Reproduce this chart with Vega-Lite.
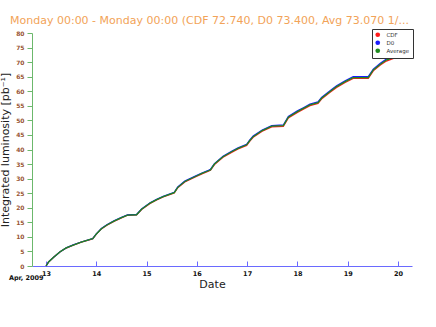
{
  "$schema": "https://vega.github.io/schema/vega-lite/v6.json",
  "autosize": "none",
  "width": 380,
  "height": 233,
  "padding": {"left": 32, "top": 33, "right": 24, "bottom": 61},
  "background": "white",
  "config": {
    "view": {"stroke": null},
    "font": "DejaVu Sans"
  },
  "title": {
    "text": "Monday 00:00 - Monday 00:00 (CDF 72.740, D0 73.400, Avg 73.070 1/...",
    "anchor": "start",
    "frame": "group",
    "dx": -22,
    "offset": 3,
    "font": "DejaVu Sans",
    "fontSize": 11,
    "fontWeight": "normal",
    "color": "#f2a358"
  },
  "data": {
    "values": [
      {"day": 13.0, "CDF": 0, "D0": 0, "Average": 0},
      {"day": 13.05, "CDF": 1.39, "D0": 1.41, "Average": 1.4},
      {"day": 13.15, "CDF": 2.99, "D0": 3.01, "Average": 3.0},
      {"day": 13.28, "CDF": 4.88, "D0": 4.92, "Average": 4.9},
      {"day": 13.40, "CDF": 6.17, "D0": 6.23, "Average": 6.2},
      {"day": 13.54, "CDF": 7.17, "D0": 7.23, "Average": 7.2},
      {"day": 13.70, "CDF": 8.16, "D0": 8.24, "Average": 8.2},
      {"day": 13.91, "CDF": 9.26, "D0": 9.34, "Average": 9.3},
      {"day": 13.93, "CDF": 9.36, "D0": 9.44, "Average": 9.4},
      {"day": 14.00, "CDF": 10.95, "D0": 11.05, "Average": 11.0},
      {"day": 14.10, "CDF": 12.74, "D0": 12.86, "Average": 12.8},
      {"day": 14.21, "CDF": 14.04, "D0": 14.16, "Average": 14.1},
      {"day": 14.35, "CDF": 15.33, "D0": 15.47, "Average": 15.4},
      {"day": 14.50, "CDF": 16.53, "D0": 16.67, "Average": 16.6},
      {"day": 14.62, "CDF": 17.42, "D0": 17.58, "Average": 17.5},
      {"day": 14.80, "CDF": 17.52, "D0": 17.68, "Average": 17.6},
      {"day": 14.90, "CDF": 19.41, "D0": 19.59, "Average": 19.5},
      {"day": 15.07, "CDF": 21.5, "D0": 21.7, "Average": 21.6},
      {"day": 15.20, "CDF": 22.7, "D0": 22.9, "Average": 22.8},
      {"day": 15.33, "CDF": 23.69, "D0": 23.91, "Average": 23.8},
      {"day": 15.55, "CDF": 25.09, "D0": 25.31, "Average": 25.2},
      {"day": 15.62, "CDF": 26.88, "D0": 27.12, "Average": 27.0},
      {"day": 15.76, "CDF": 28.87, "D0": 29.13, "Average": 29.0},
      {"day": 15.99, "CDF": 30.76, "D0": 31.04, "Average": 30.9},
      {"day": 16.10, "CDF": 31.66, "D0": 31.94, "Average": 31.8},
      {"day": 16.23, "CDF": 32.55, "D0": 32.85, "Average": 32.7},
      {"day": 16.27, "CDF": 32.85, "D0": 33.15, "Average": 33.0},
      {"day": 16.35, "CDF": 34.84, "D0": 35.16, "Average": 35.0},
      {"day": 16.52, "CDF": 37.33, "D0": 37.67, "Average": 37.5},
      {"day": 16.70, "CDF": 39.12, "D0": 39.48, "Average": 39.3},
      {"day": 16.82, "CDF": 40.22, "D0": 40.58, "Average": 40.4},
      {"day": 16.99, "CDF": 41.41, "D0": 41.79, "Average": 41.6},
      {"day": 17.05, "CDF": 42.81, "D0": 43.19, "Average": 43.0},
      {"day": 17.12, "CDF": 44.2, "D0": 44.6, "Average": 44.4},
      {"day": 17.30, "CDF": 46.29, "D0": 46.71, "Average": 46.5},
      {"day": 17.49, "CDF": 47.78, "D0": 48.22, "Average": 48.0},
      {"day": 17.72, "CDF": 47.98, "D0": 48.42, "Average": 48.2},
      {"day": 17.82, "CDF": 50.87, "D0": 51.33, "Average": 51.1},
      {"day": 18.00, "CDF": 52.76, "D0": 53.24, "Average": 53.0},
      {"day": 18.12, "CDF": 53.86, "D0": 54.34, "Average": 54.1},
      {"day": 18.25, "CDF": 55.05, "D0": 55.55, "Average": 55.3},
      {"day": 18.41, "CDF": 55.85, "D0": 56.35, "Average": 56.1},
      {"day": 18.48, "CDF": 57.34, "D0": 57.86, "Average": 57.6},
      {"day": 18.65, "CDF": 59.63, "D0": 60.17, "Average": 59.9},
      {"day": 18.78, "CDF": 61.32, "D0": 61.88, "Average": 61.6},
      {"day": 18.95, "CDF": 63.02, "D0": 63.58, "Average": 63.3},
      {"day": 19.11, "CDF": 64.41, "D0": 64.99, "Average": 64.7},
      {"day": 19.41, "CDF": 64.41, "D0": 64.99, "Average": 64.7},
      {"day": 19.51, "CDF": 67.0, "D0": 67.6, "Average": 67.3},
      {"day": 19.65, "CDF": 68.99, "D0": 69.61, "Average": 69.3},
      {"day": 19.77, "CDF": 70.38, "D0": 71.02, "Average": 70.7},
      {"day": 19.91, "CDF": 71.28, "D0": 71.92, "Average": 71.6},
      {"day": 20.0, "CDF": 72.74, "D0": 73.40, "Average": 73.07}
    ]
  },
  "transform": [
    {"fold": ["CDF", "D0", "Average"], "as": ["series", "lumi"]}
  ],
  "encoding": {
    "x": {
      "field": "day",
      "type": "quantitative",
      "scale": {"domain": [12.72, 20.28], "nice": false, "zero": false},
      "axis": {
        "values": [13, 14, 15, 16, 17, 18, 19, 20],
        "format": "d",
        "title": "Date",
        "titleFont": "DejaVu Sans",
        "titleFontSize": 11,
        "titleFontWeight": "normal",
        "titleColor": "#222222",
        "titleX": 180,
        "titlePadding": 2,
        "domainColor": "#6a6aff",
        "domainWidth": 1.2,
        "tickColor": "#6a6aff",
        "tickSize": -5,
        "labelPadding": 9,
        "labelFontSize": 6.5,
        "labelFontWeight": "bold",
        "labelColor": "#111111",
        "grid": false
      }
    },
    "y": {
      "field": "lumi",
      "type": "quantitative",
      "scale": {"domain": [0, 80], "nice": false},
      "axis": {
        "values": [0, 5, 10, 15, 20, 25, 30, 35, 40, 45, 50, 55, 60, 65, 70, 75, 80],
        "title": "Integrated luminosity [pb⁻¹]",
        "titleFont": "DejaVu Sans",
        "titleFontSize": 11,
        "titleFontWeight": "normal",
        "titleColor": "#222222",
        "titlePadding": 5,
        "domainColor": "#6cb86c",
        "tickColor": "#6cb86c",
        "tickSize": 5,
        "labelPadding": 3,
        "labelFontSize": 6,
        "labelFontWeight": "bold",
        "labelColor": "#995533",
        "grid": false
      }
    },
    "color": {
      "field": "series",
      "type": "nominal",
      "scale": {"domain": ["CDF", "D0", "Average"], "range": ["#ff1a1a", "#1a1aff", "#1e8a1e"]},
      "legend": {
        "title": null,
        "orient": "none",
        "legendX": 340,
        "legendY": -4,
        "symbolType": "circle",
        "symbolSize": 22,
        "symbolStrokeWidth": 0,
        "labelFontSize": 5.5,
        "labelColor": "#333333",
        "rowPadding": 1,
        "padding": 3,
        "strokeColor": "#333333",
        "fillColor": "white",
        "labelOffset": 6,
        "labelLimit": 40,
        "encode": {
          "symbols": {"update": {"fill": {"scale": "color", "field": "value"}, "fillOpacity": {"value": 1}}}
        }
      }
    }
  },
  "layer": [
    {"transform": [{"filter": "datum.series == 'CDF'"}], "mark": {"type": "line", "strokeWidth": 1.3}},
    {"transform": [{"filter": "datum.series == 'D0'"}], "mark": {"type": "line", "strokeWidth": 1.3}},
    {"transform": [{"filter": "datum.series == 'Average'"}], "mark": {"type": "line", "strokeWidth": 1.3}},
    {
      "data": {"values": [{"label": "Apr, 2009", "day": 12.26, "lumi": -4.1}]},
      "transform": [],
      "mark": {"type": "text", "align": "left", "baseline": "middle", "fontSize": 6.5, "fontWeight": "bold", "color": "#111111"},
      "encoding": {
        "x": {"field": "day", "type": "quantitative"},
        "y": {"field": "lumi", "type": "quantitative"},
        "text": {"field": "label"},
        "color": {"value": "#111111"}
      }
    }
  ]
}
